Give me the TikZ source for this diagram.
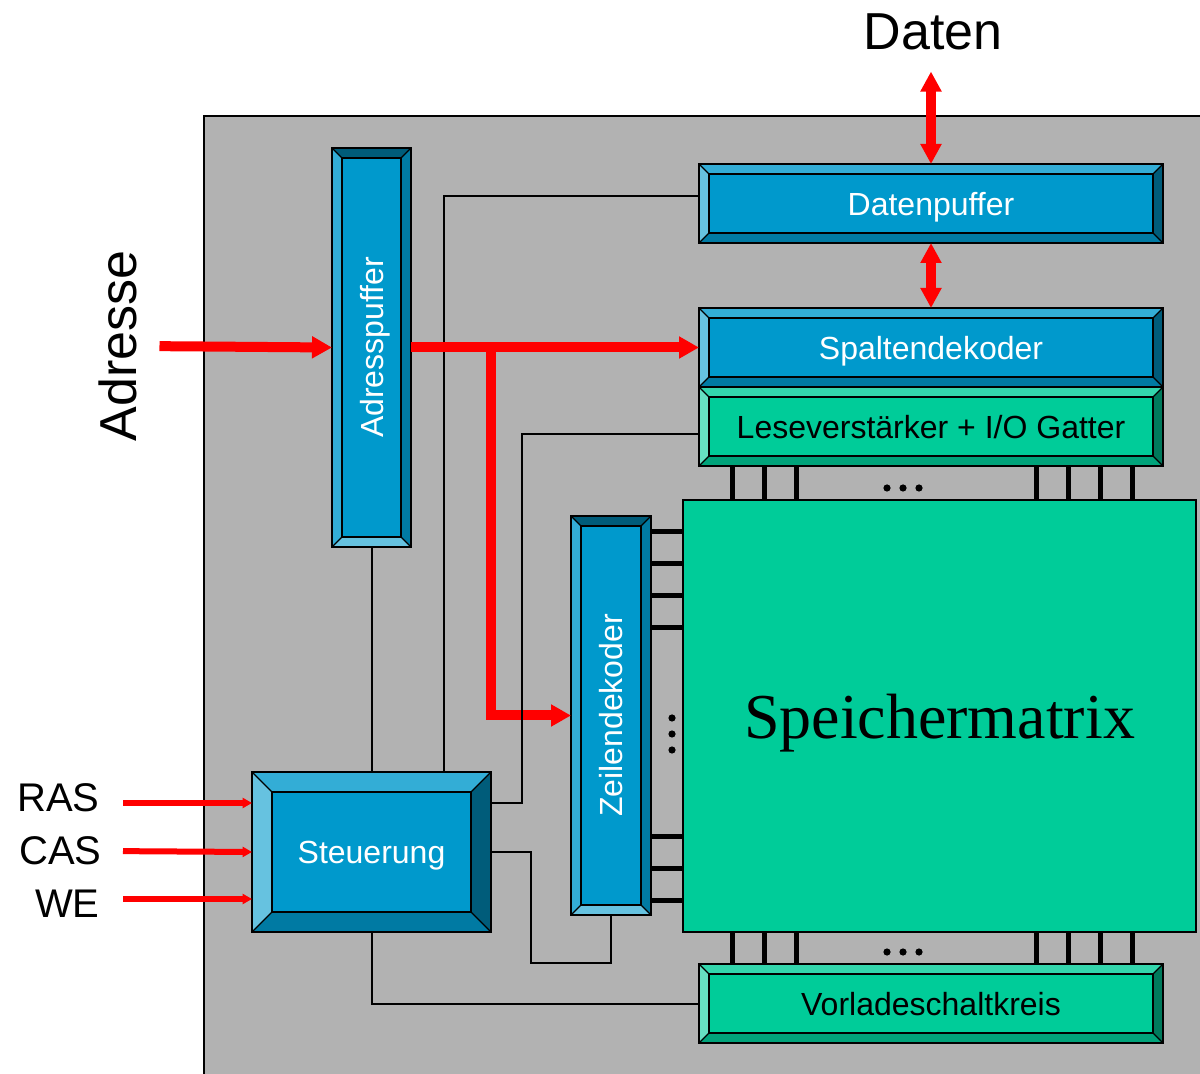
\documentclass[tikz,border=0pt]{standalone}
\usepackage{fontspec}
\setmainfont{Liberation Serif}
\setsansfont{Liberation Sans}
\usetikzlibrary{calc, positioning}
\usetikzlibrary{arrows.meta}

\definecolor{chip}{HTML}{B2B2B2}
\definecolor{bluefc}{HTML}{0099CC}
\definecolor{bluetp}{HTML}{33ADD6}
\definecolor{bluelf}{HTML}{66C2E0}
\definecolor{bluebt}{HTML}{007AA3}
\definecolor{bluert}{HTML}{005C7A}
\definecolor{grnfc}{HTML}{00CC99}
\definecolor{grntp}{HTML}{33D6AD}
\definecolor{grnlf}{HTML}{66E0C2}
\definecolor{grnbt}{HTML}{00A37A}
\definecolor{grnrt}{HTML}{007A5C}

% bevel: width, top, left, bottom, right
\newcommand{\bevelfill}[5]{%
  \coordinate (bvA) at (path picture bounding box.north west);
  \coordinate (bvB) at (path picture bounding box.north east);
  \coordinate (bvC) at (path picture bounding box.south east);
  \coordinate (bvD) at (path picture bounding box.south west);
  \coordinate (bva) at ([shift={(#1,-#1)}]bvA);
  \coordinate (bvb) at ([shift={(-#1,-#1)}]bvB);
  \coordinate (bvc) at ([shift={(-#1,#1)}]bvC);
  \coordinate (bvd) at ([shift={(#1,#1)}]bvD);
  \fill[#2] (bvA) -- (bvB) -- (bvb) -- (bva) -- cycle;
  \fill[#3] (bvA) -- (bva) -- (bvd) -- (bvD) -- cycle;
  \fill[#4] (bvD) -- (bvd) -- (bvc) -- (bvC) -- cycle;
  \fill[#5] (bvB) -- (bvC) -- (bvc) -- (bvb) -- cycle;
  \draw[line width=0.6pt] (bvA) -- (bva) (bvB) -- (bvb) (bvC) -- (bvc) (bvD) -- (bvd);
  \draw[line width=1pt] (bva) rectangle (bvc);
}
\newcommand{\uptext}[1]{\rotatebox{90}{\raisebox{0pt}[\height][0pt]{#1}}}

\tikzset{
  block/.style={draw, line width=1pt, inner sep=0pt, outer sep=0pt, text depth=0pt,
    font=\sffamily\fontsize{16}{19}\selectfont},
  bluebox/.style={block, fill=bluefc, text=white,
    path picture={\bevelfill{#1}{bluetp}{bluelf}{bluebt}{bluert}}},
  bluebox/.default=5pt,
  blueup/.style={block, fill=bluefc, text=white,
    path picture={\bevelfill{5pt}{bluert}{bluetp}{bluelf}{bluebt}}},
  greenbox/.style={block, fill=grnfc, text=black,
    path picture={\bevelfill{5pt}{grntp}{grnlf}{grnbt}{grnrt}}},
  wire/.style={line width=1pt},
  bitline/.style={line width=2.5pt},
  bus/.style={red, line width=5pt, -{Triangle[length=10pt,width=10.5pt]}},
  bibus/.style={red, line width=5pt,
    {Triangle[length=10pt,width=10pt]}-{Triangle[length=10pt,width=10pt]}},
  sig/.style={red, line width=3pt, -{Triangle[length=4.7pt,width=5pt]}},
  biglabel/.style={inner sep=0pt, font=\sffamily\fontsize{26}{31}\selectfont},
  siglabel/.style={inner sep=0pt, anchor=east, font=\sffamily\fontsize{20}{24}\selectfont},
}

\begin{document}
\begin{tikzpicture}[x=0.5pt,y=-0.5pt]
\useasboundingbox (0,0) rectangle (1200,1074);

% chip
\filldraw[fill=chip, line width=1pt] (204,116) rectangle (1212,1090);

% blocks
\node[bluebox, minimum width=232pt, minimum height=39.5pt] (dpuf) at (931,203.5) {Datenpuffer};
\node[bluebox, minimum width=232pt, minimum height=39.5pt] (spalt) at (931,347.5) {Spaltendekoder};
\node[greenbox, minimum width=232pt, minimum height=39.5pt, below=0pt of spalt] (lese) {Leseverstärker + I/O Gatter};
\node[blueup, minimum width=39.5pt, minimum height=199.5pt] (apuf) at (371.5,347.5) {\uptext{Adresspuffer}};
\node[blueup, minimum width=40pt, minimum height=199.5pt] (zeil) at (611,715.5) {\uptext{Zeilendekoder}};
\node[bluebox=10pt, minimum width=119.5pt, minimum height=80pt] (steu) at (371.5,852) {Steuerung};
\node[greenbox, minimum width=232pt, minimum height=39.5pt] (vorl) at (931,1003.5) {Vorladeschaltkreis};
\node[draw, line width=0.8pt, fill=grnfc, inner sep=0pt, text depth=0pt, minimum width=256.5pt, minimum height=216pt,
  font=\rmfamily\fontsize{32}{38}\selectfont] (mat) at (939.5,716) {Speichermatrix};

% labels
\node[biglabel] (daten) at (933,32) {Daten};
\node[biglabel, rotate=90] (adr) at (118,346) {Adresse};
\node[siglabel] (ras) at (100,797.5) {RAS};
\node[siglabel] (cas) at (102,851) {CAS};
\node[siglabel] (we) at (100,904) {WE};

% control wires
\draw[wire] (apuf.south) -- (steu.north);
\draw[wire] ([xshift=36.25pt]steu.north) |- ([yshift=3.75pt]dpuf.west);

% address and data paths
\draw[bibus, shorten <=10.5pt] (daten.south -| dpuf.north) -- (dpuf.north);
\draw[bibus] (dpuf.south) -- (spalt.north);
\draw[bus, shorten <=11pt] (adr.south) -- (apuf.west);
\draw[bus] (apuf.east) -- (spalt.west);
\draw[bus] ([xshift=40pt]apuf.east) |- (zeil.west);

\draw[wire] ([yshift=24.5pt]steu.east) -- ++(15.5pt,0) |- ([yshift=-3.75pt]lese.west);
\draw[wire] (steu.east) -- ++(20pt,0) |- ([yshift=-24pt]zeil.south) -- (zeil.south);
\draw[wire] (steu.south) |- (vorl.west);

% control inputs
\coordinate (rasin) at ([yshift=24.5pt]steu.west);
\coordinate (wein) at ([yshift=-23.5pt]steu.west);
\draw[sig, shorten <=11.5pt] (rasin -| ras.east) -- (rasin);
\draw[sig, shorten <=10.5pt] (cas.east) -- (steu.west);
\draw[sig, shorten <=11.5pt] (wein -| we.east) -- (wein);

% bit lines and word lines
\foreach \dx in {33,65,97,337,369,401,433} {
  \path ([xshift=\dx*0.5pt]lese.south west) coordinate (bt)
        ([xshift=\dx*0.5pt]vorl.north west) coordinate (bb);
  \draw[bitline] (bt) -- (bt |- mat.north);
  \draw[bitline] (bb) -- (bb |- mat.south);
}
\foreach \dy in {16,48,80,112,320,352,384} {
  \path ([yshift=-\dy*0.5pt]zeil.north east) coordinate (rw);
  \draw[bitline] (rw) -- (rw -| mat.west);
}

% dots
\foreach \x in {887,903,919} {
  \fill (\x,488) circle (1.8pt);
  \fill (\x,952) circle (1.8pt);
}
\foreach \y in {718,734,750}
  \fill (672,\y) circle (1.8pt);
\end{tikzpicture}
\end{document}
